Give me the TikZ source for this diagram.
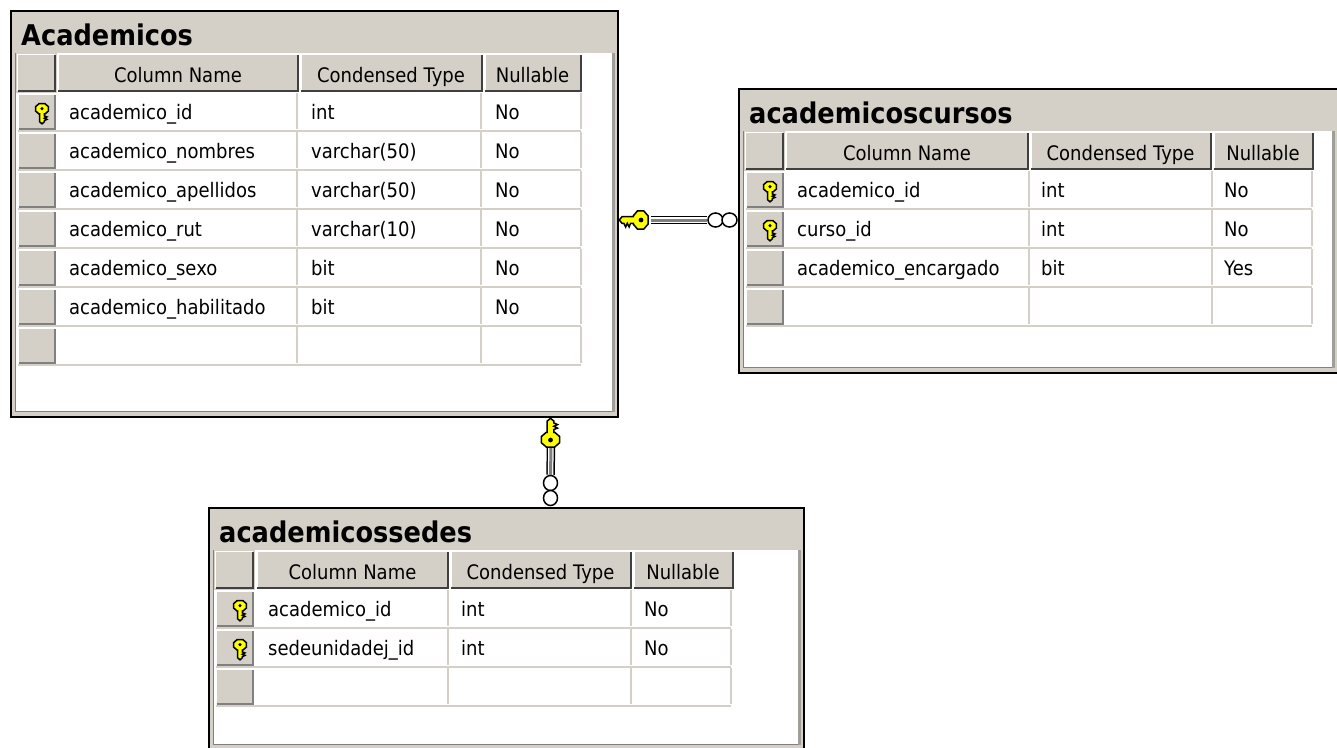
\documentclass[tikz,border=0pt]{standalone}
\usepackage{fontspec}
\setmainfont{DejaVu Sans}[FakeStretch=0.9]
\usetikzlibrary{shapes.geometric}
\definecolor{beige}{HTML}{D4D0C8}
\definecolor{keyyellow}{HTML}{FFFF00}
\definecolor{edgegrey}{HTML}{808080}
\definecolor{edgemid}{HTML}{A09E98}
\definecolor{edgedark}{HTML}{404040}
\tikzset{
  cell/.style={anchor=base west,inner sep=0pt,font=\fontsize{20}{22}\selectfont,text=black},
  headtext/.style={anchor=base,inner sep=0pt,font=\fontsize{20}{22}\selectfont,text=black},
  titletext/.style={anchor=base west,inner sep=0pt,font=\fontsize{28.5}{30}\bfseries\selectfont,text=black},
  gridline/.style={draw=beige,line width=2pt},
  ringend/.style={draw=black,fill=white,line width=1.5pt,ellipse,inner sep=0pt},
  anchorpt/.style={inner sep=0pt,minimum size=0pt},
  keyicon/.pic={
    \fill[keyyellow,draw=black,line width=1.5pt]
      (-3,-10) -- (3,-10) -- (6.5,-7) -- (6.5,-2.5) -- (3,0.5) -- (2.4,0.5) -- (2.4,2.5)
      -- (5,3.5) -- (2.4,4.8) -- (5,6) -- (2.4,7.2) -- (2.4,8.5) -- (0,10.5) -- (-2.4,8.5)
      -- (-2.4,0.5) -- (-3,0.5) -- (-6.5,-2.5) -- (-6.5,-7) -- cycle;
    \fill[black] (0,-5) circle (1.7);
  }
}
% raised button: x0,y0,x1,y1,darker edge colour
\newcommand{\btn}[5]{%
  \fill[beige] (#1,#2) rectangle (#3,#4);
  \draw[white,line width=1.5pt] (#1,#4) -- (#1,#2) -- (#3,#2);
  \draw[#5,line width=2pt] (#1,#4) -- (#3,#4) -- (#3,#2);
}
% frame: name, title, L, T, R, B
\newcommand{\tframe}[6]{%
  \node[draw=black,fill=beige,line width=2.2pt,inner sep=0pt,outer sep=0pt,anchor=north west,
        minimum width=#5pt-#3pt,minimum height=#6pt-#4pt] (#1) at (#3,#4) {};
  \fill[white] (#3+5,#4+42) rectangle (#5-6,#6-6);
  \draw[edgegrey,line width=1.4pt] (#3+4.5,#4+42) -- (#3+4.5,#6-5.5) -- (#5-5.5,#6-5.5);
  \draw[edgemid,line width=3pt] (#5-5,#6-5) -- (#5-5,#4+42);
  \node[titletext] (#1-title) at (#3+10,#4+34) {#2};
}
% header: name, L, T, c1, c2, c3, c4
\newcommand{\thead}[7]{%
  \fill[beige] (#2+6,#3+43) rectangle (#2+47,#3+83);
  \btn{#2+7.5}{#3+44.5}{#2+44.5}{#3+81}{edgedark}
  \btn{#4}{#3+44.5}{#5-2}{#3+81}{edgedark}
  \btn{#5+1}{#3+44.5}{#6-2}{#3+81}{edgedark}
  \btn{#6+1}{#3+44.5}{#7}{#3+81}{edgedark}
  \node[headtext] (#1-h1) at ({(#4+#5)/2-1},#3+72) {Column Name};
  \node[headtext] (#1-h2) at ({(#5+#6)/2-1},#3+72) {Condensed Type};
  \node[headtext] (#1-h3) at ({(#6+#7)/2},#3+72) {Nullable};
}
% row: name, row index (0-based), L, T, c2, c3, c4, is key (1/0)
\newcommand{\trow}[8]{%
  \pgfmathsetmacro{\ry}{#4+83+39*#2}
  \draw[gridline] (#3+8,\ry+38) -- (#7,\ry+38);
  \draw[gridline] (#5-1.5,\ry) -- (#5-1.5,\ry+36);
  \draw[gridline] (#6-1.5,\ry) -- (#6-1.5,\ry+36);
  \draw[gridline] (#7,\ry) -- (#7,\ry+36);
  \btn{#3+8.5}{\ry+1.5}{#3+44.5}{\ry+36}{edgegrey}
  \ifnum#8=1 \pic[scale=0.98] at (#3+32,\ry+20.5) {keyicon};\fi
}
\begin{document}
\begin{tikzpicture}[x=1pt,y=-1pt]
\useasboundingbox (0,0) rectangle (1337,747);
\fill[white] (0,0) rectangle (1337,747);
\clip (0,0) rectangle (1337,747);

% ---- Academicos
\tframe{acad}{Academicos}{11}{11}{618}{417}
\thead{acad}{10}{10}{58}{300}{484}{581}
\foreach \i/\k in {0/1,1/0,2/0,3/0,4/0,5/0,6/0}{\trow{acad}{\i}{10}{10}{298}{482}{581}{\k}}
\foreach \i/\a/\b/\c in {0/academico\_id/int/No,1/academico\_nombres/varchar(50)/No,2/academico\_apellidos/varchar(50)/No,3/academico\_rut/varchar(10)/No,4/academico\_sexo/bit/No,5/academico\_habilitado/bit/No}{
  \pgfmathsetmacro{\by}{119+39*\i}
  \node[cell] (acad-a\i) at (69,\by) {\a};
  \node[cell] (acad-b\i) at (311,\by) {\b};
  \node[cell] (acad-c\i) at (495,\by) {\c};
}

% ---- academicoscursos
\tframe{cursos}{academicoscursos}{739}{89}{1338}{373}
\thead{cursos}{738}{88}{786}{1030}{1213}{1313}
\foreach \i/\k in {0/1,1/1,2/0,3/0}{\trow{cursos}{\i}{738}{88}{1030}{1213}{1312}{\k}}
\foreach \i/\a/\b/\c in {0/academico\_id/int/No,1/curso\_id/int/No,2/academico\_encargado/bit/Yes}{
  \pgfmathsetmacro{\by}{197+39*\i}
  \node[cell] (cursos-a\i) at (797,\by) {\a};
  \node[cell] (cursos-b\i) at (1041,\by) {\b};
  \node[cell] (cursos-c\i) at (1224,\by) {\c};
}

% ---- academicossedes
\tframe{sedes}{academicossedes}{209}{508}{804}{750}
\thead{sedes}{208}{507}{257}{450}{633}{733}
\foreach \i/\k in {0/1,1/1,2/0}{\trow{sedes}{\i}{208}{507}{449}{632}{731}{\k}}
\foreach \i/\a/\b/\c in {0/academico\_id/int/No,1/sedeunidadej\_id/int/No}{
  \pgfmathsetmacro{\by}{616+39*\i}
  \node[cell] (sedes-a\i) at (268,\by) {\a};
  \node[cell] (sedes-b\i) at (461,\by) {\b};
  \node[cell] (sedes-c\i) at (644,\by) {\c};
}

% ---- connectors
\node[anchorpt] (keyA) at (651,220) {};
\node[ringend,minimum width=15pt,minimum height=14pt] (ringA1) at (715.5,220) {};
\node[ringend,minimum width=15pt,minimum height=14pt] (ringA2) at (729.5,220) {};
\draw[black,line width=8.5pt] (keyA) -- (ringA1.west);
\draw[white,line width=5.5pt] (keyA) -- (ringA1.west);
\draw[edgegrey,line width=3pt] (keyA) -- (ringA1.west);
\pic[rotate=-90,scale=1.4] at (634,220) {keyicon};

\node[anchorpt] (keyB) at (551,447) {};
\node[ringend,minimum width=14pt,minimum height=15pt] (ringB1) at (550.5,483) {};
\node[ringend,minimum width=14pt,minimum height=15pt] (ringB2) at (550.5,498) {};
\draw[black,line width=8.5pt] (keyB) -- (ringB1.north);
\draw[white,line width=5.5pt] (keyB) -- (ringB1.north);
\draw[edgegrey,line width=3pt] (keyB) -- (ringB1.north);
\pic[yscale=-1,scale=1.4] at (550.5,433) {keyicon};
\end{tikzpicture}
\end{document}
